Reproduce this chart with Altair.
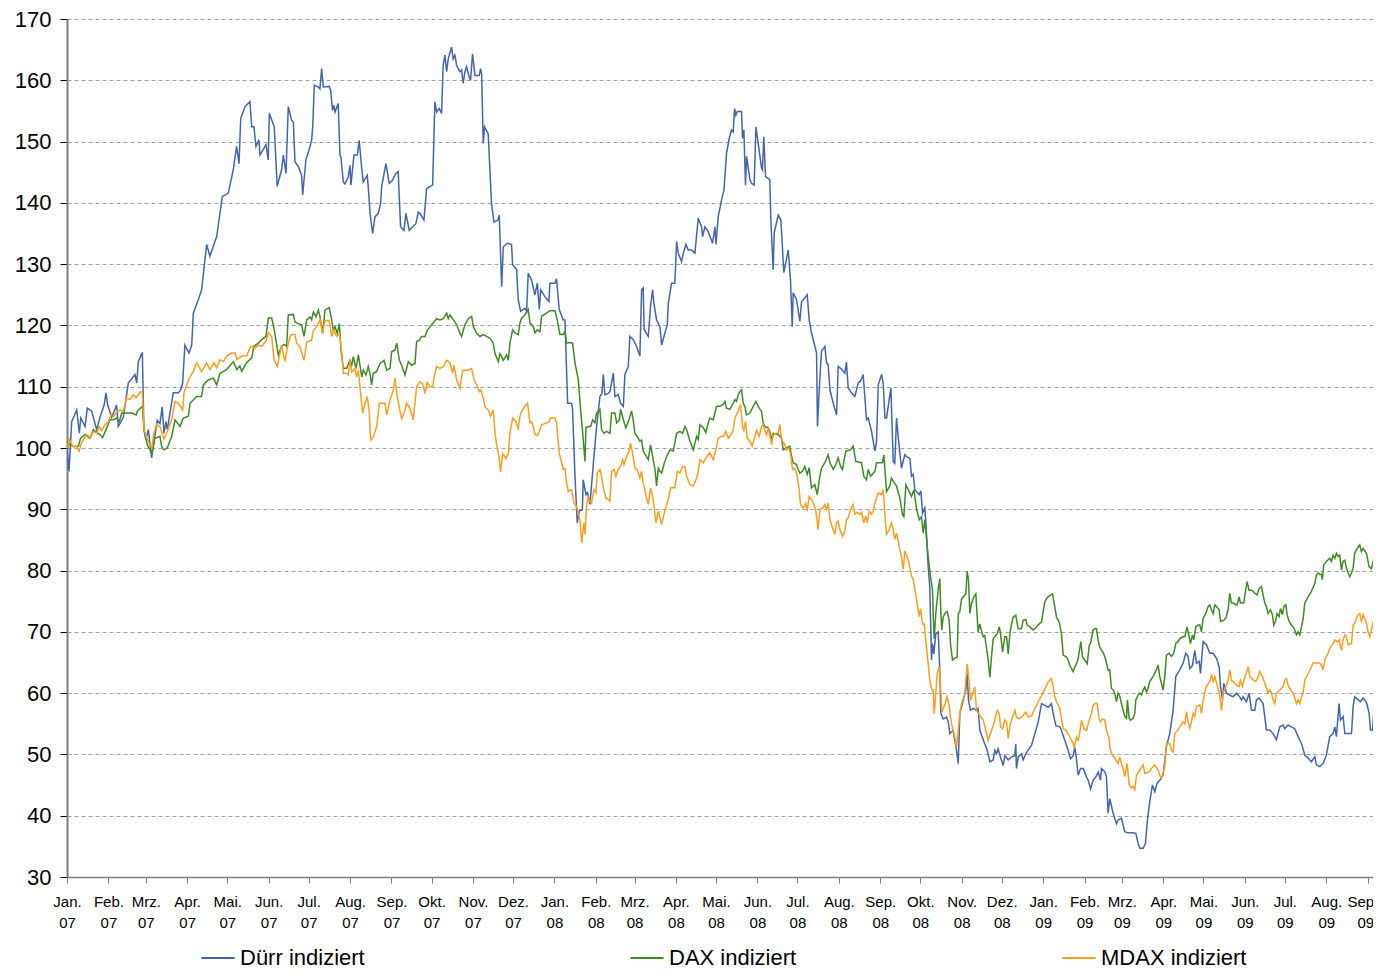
import altair as alt
import pandas as pd

# Each entry: (days since 2007-01-01, index value)
durr = [
(0,100),(1.5,96.2),(3.5,104.3),(7.3,106.2),(9.2,102.4),(10.3,104.9),(13.5,103.5),(15.2,106.5),(18.5,106),(22.2,103),
(24.7,105),(27.9,107.1),(29.2,109),(30.5,107),(33.5,105),(37.2,107),(38.4,103.5),(42.2,105),(45.9,110.6),(50.9,112),
(52.2,110.6),(53.4,114.1),(56.4,115.6),(57.6,103),(59.1,101.4),(60.9,103),(63.4,98.4),(65.1,101),(67.6,104.5),(69.6,104),
(71.3,106.7),(72.6,102.4),(74.1,104.3),(75.1,103),(77.1,105.7),(79.6,109),(83.3,109),(85.1,109.5),(86.6,110.6),(88.3,116.8),
(91.3,115.5),(93.4,116.8),(94.6,122),(98.3,124.2),(100.8,125.8),(104.6,133.2),(107,131.3),(112.1,134.5),(116.3,141),(120.8,141.6),
(124.5,145.4),(127,149.2),(128.8,146.4),(130.1,153.8),(133.3,155.7),(137,156.5),(138.3,152.4),(140,152.4),(141.5,149.2),(143.7,150.3),
(144.5,147.8),(149,149.5),(150.7,147),(151.5,154.6),(155.2,152.4),(157.4,142.7),(160.7,145.4),(162,147.8),(164,144.8),(165.7,155.7),
(168.2,153.5),(169.5,153.2),(170.7,146.7),(173.2,145.9),(175.7,144.5),(176.5,141.3),(178.9,147),(181.2,148.6),(183.2,150.2),(184,152.4),
(185.2,159.2),(188.2,158.9),(189.4,158.6),(190.7,161.9),(191.9,158.9),(196.4,159),(197.4,158.4),(198.9,155.1),(199.9,155.9),(200.7,154.8),
(203.1,156.2),(204.4,147.8),(205.1,147.5),(206.9,143.4),(208.1,143.1),(210.6,144.2),(211.9,146.1),(212.6,142.9),(214.9,147.8),(217.4,147.8),
(218.8,150.2),(220.6,145.9),(221.8,143.4),(224.8,144.5),(225.6,142.6),(226.9,138.3),(228.9,135),(230.6,137.7),(233.1,138.3),(234.9,139.9),
(235.6,142.6),(238.8,146.4),(241.3,143.2),(243.8,143.7),(246.3,144.8),(248,145.1),(249.8,136.1),(252.3,135.5),(253.8,138.3),(256.3,135.5),
(258.8,136.1),(261.3,136.6),(263,138.5),(264.3,138.3),(267.3,137.2),(269.3,142.3),(271.3,142.6),(273.8,142.9),(275.5,156.5),(276.8,154.8),
(278.7,155.4),(280.5,154.6),(281.7,162.4),(283,164.1),(284.3,161.4),(285.5,163.5),(288,165.4),(289.2,163.5),(290.5,164.1),(291.8,162.4),
(294.2,161.4),(295.5,161.7),(296.7,159.5),(298,161.4),(299.2,162.2),(301.2,160.5),(302.2,160),(303.7,164.3),(305.5,160.8),(308.7,160.8),
(309.7,161.9),(310.5,161),(311.7,149.7),(312.7,152.4),(315.4,151.3),(317.9,139.9),(319.7,136.9),(322.9,137.2),(323.7,138),(325.5,126.3),
(326.7,132.8),(329.7,133.4),(332.9,133.2),(333.7,129.9),(336.7,129.1),(337.9,124.2),(339.7,122.3),(342.9,122.8),(344.2,122.3),(345.4,128.5),
(347.9,127.4),(350.4,125),(352.2,126.9),(353.7,122.6),(354.7,125.8),(357.9,124.7),(360.9,123.9),(361.6,126.9),(365.4,126.9),(366.6,127.6),
(368.6,122.6),(371.6,120.9),(372.9,120.9),(374.9,107.3),(377.9,107.3),(378.6,106.3),(380.4,95.4),(382.1,87.8),(383.6,89.7),(385.9,89.9),
(386.6,94.8),(388.6,92.4),(389.8,92.7),(391.6,90.8),(394.6,98.6),(396.6,103.5),(399.1,108.4),(400.6,108.9),(401.6,112),(402.8,108.7),
(405.3,108.9),(406.6,109.2),(409.1,112.2),(410.3,108.4),(412.8,108.7),(414.6,107.3),(416.6,106.8),(417.8,112),(420.3,113.3),(421.5,118.2),
(424,117.7),(426.5,116.6),(429,115),(430.3,125.8),(431.5,126.1),(432.2,119.3),(435.3,118.2),(437,123.1),(438.5,125.8),(439.5,123.6),
(441.5,120.9),(444,119.8),(445.3,116.8),(447.8,118.8),(449.5,120.1),(450.3,123.6),(452.7,126.9),(455.2,126.9),(456.5,133.7),(457.7,131.8),
(460.2,130.4),(461.5,131.8),(463.5,133.2),(465.2,132.3),(467.7,132.3),(470.2,131.8),(472.7,137.5),(475.2,136.1),(476,134.5),(477.7,136.1),
(480.2,135.3),(483.4,133.4),(485.2,136.1),(486,133.2),(487.7,137.8),(490.2,140.5),(492,142.1),(493.9,148.1),(495.9,150.5),(497.6,151.9),
(498.9,151.6),(499.9,155.4),(500.9,154.3),(501.9,154.9),(505.1,154.9),(505.9,150.5),(506.9,151.9),(508.1,142.9),(508.9,147.6),(511.4,143.8),
(512.6,143.2),(514.6,142.9),(515.9,152.4),(517.6,149.7),(520.1,145.7),(520.8,145.4),(521.8,150.8),(523.1,144.3),(525.1,144),(526.3,143.8),
(527.1,137.2),(528.8,129.1),(529.6,135.1),(532.6,138),(534.6,137.2),(536.8,128.6),(540.1,132.3),(541.8,127.4),(543.1,119.8),(543.8,125.3),
(546.3,124.2),(548.8,120.7),(550.1,123.9),(552.5,124.5),(554.3,125),(555.8,120.9),(557.5,118.8),(561.3,115.5),(562,103.5),(563.3,109.5),
(565,115.8),(567.5,116.6),(568.8,113.9),(570,113.6),(571.3,109.5),(573.8,107.3),(576.3,105.4),(577.5,113.3),(579.3,113),(582.5,112.2),
(583.7,114),(585,109.8),(587.5,109),(590,108.4),(592.5,110.6),(594.2,110.9),(596.2,112),(597.5,108.2),(598.7,104.6),(600,104.9),
(602.5,102.7),(605,99.5),(606.2,100.9),(607.5,110.3),(610,112),(611.2,110.6),(612.5,104.9),(613.7,104.9),(617,109.8),(618.7,97.8),
(619.9,97.5),(621.2,104.9),(622.4,101.9),(624.9,96.7),(627.4,98.9),(628.7,98.6),(631.2,98.3),(632.4,95.4),(633.7,95.7),(634.9,93.2),
(638.2,92.4),(639.4,93),(640.7,89.4),(642.4,90.2),(643.2,87.8),(644.9,80.6),(646.1,77.3),(647.4,65.4),(648.1,68.1),(649.1,66.4),
(650.6,69.7),(652.4,70),(653.6,63.7),(654.4,56.7),(656.1,55.8),(658.6,56.1),(659.9,55.3),(661.1,53.4),(663.6,53.9),(664.9,52.3),
(666.1,50.7),(667.4,48.5),(668.6,56.7),(671.1,58.8),(673.1,60.5),(674.1,63.2),(675.1,58.8),(676.6,57.2),(678.6,57.5),(681.1,57.2),
(682.3,57.5),(683.6,53.9),(687.3,51.7),(689.1,50.7),(691.1,48.8),(693.6,49.1),(694.8,50.7),(696.1,50.1),(697.3,50.9),(699.1,49.5),
(701.1,48.2),(702.3,49.8),(704.8,49.1),(707.3,49.6),(709.8,49.8),(710.5,51.7),(711,47.7),(712.3,49.6),(714.8,50.1),(716,49.1),
(718,50.1),(719.8,50.7),(722.3,51.5),(724.8,53.4),(727.3,55.3),(729.8,58.3),(732.3,58),(734.7,57.7),(737.2,58.3),(738.5,56.7),
(740.5,54.7),(743.5,54.5),(744.7,53.9),(747.2,52.3),(749.7,50.7),(751.5,49.3),(753.5,49.8),(754.7,51.2),(756,49.1),(757.2,46.6),
(759,47.7),(761,47.7),(763.5,46.3),(764.7,45.8),(766.5,44.4),(768.4,45.8),(770.4,46.3),(772.2,47.1),(773.9,45.8),(774.6,47.7),
(777.1,47.2),(778.4,46.4),(779.6,40.4),(780.9,42.8),(783.4,40.4),(785.9,38.7),(787.1,39.3),(789.6,39.6),(792.1,37.4),(794.6,37.2),
(798.4,37.2),(800.4,37.1),(802.1,35.5),(803.4,34.7),(805.9,34.7),(807.6,35.5),(809.1,39.3),(810.8,42.3),(812.8,45),(814.6,43.9),
(816.3,45.3),(818.3,45.8),(820.8,46.6),(823.3,51.3),(825.8,53.4),(828.3,57.2),(830.3,62.7),(833.3,63.8),(835.8,64.9),(837.8,66.5),
(839.5,66),(840.8,64),(842.8,64.5),(844.5,67),(845.8,64.9),(847.8,65.2),(848.8,63.2),(850.8,68.4),(853.3,67.9),(855.8,66.5),
(858.3,66.5),(860.8,65.7),(862.8,64.3),(863.8,61.1),(865.3,58.9),(866.3,61.6),(868.3,60),(870.7,59.7),(873.2,59.4),(875.7,60),
(878.2,59.4),(879.5,58.9),(880.7,59.4),(883.2,58.6),(885.2,60),(887,57.2),(889.5,57.2),(890.7,58.9),(892.7,59.2),(895.7,58.3),
(898.2,54),(900.7,54),(903.2,53.4),(905.7,52.4),(908.2,54.5),(910.7,54.8),(911.9,54.2),(914.4,54.8),(916.9,54.5),(919.4,54.2),
(921.9,52.9),(924.4,51.8),(926.9,49.9),(929.4,49.4),(931.9,48.8),(934.4,49.6),(935.6,48.3),(938.1,48),(940.6,48.5),(943.1,49.9),
(945.6,52.9),(948.1,53.4),(949.4,54.5),(950.6,52.9),(952.6,58.3),(953.6,55.6),(955.6,56.2),(956.9,53.4),(959.4,53.4),(961.9,53.4),
(963.1,57.8),(964.3,59.4),(966.8,58.9),(968.6,58.6),(970.6,59.2),(973.1,58.5),(975.1,56.7),(976.1,54),(977.6,54),(978.8,57.5),
]

dax = [
(0.3,100),(1,100.8),(4.7,100.2),(8.5,100.3),(10.2,101.6),(13.5,102.2),(17.2,101.6),(19.7,103),(22.2,102.5),(24.7,102.2),
(26.7,101.7),(29.2,103),(32.2,104.6),(34.7,104.6),(37.2,104.9),(39.2,104.3),(41,105.7),(44.7,105.7),(48.4,105.7),(51.7,105.4),
(52.7,106),(56.4,106.8),(57.7,103),(60.2,100.5),(63.4,99.2),(65.9,101.6),(69.6,101.9),(70.9,100.2),(72.6,99.7),(75.1,100),
(78.4,101.9),(80.9,104.6),(82.6,104.1),(84.6,103.5),(87.1,104.9),(90.9,105.2),(92.1,107.3),(97.1,108.4),(100.8,108.4),(102.1,110.3),
(105.8,111.1),(109.6,111.4),(112.1,110.3),(114.6,112.2),(119.6,112.8),(124.6,114.1),(127.1,112.8),(129.5,113.4),(130.8,112.5),(134.5,113.9),
(138.3,114.7),(140,116.6),(143.3,117.1),(145.8,117.7),(149,118.2),(150.8,121.2),(153.3,121.2),(155.2,119.3),(158.2,115.2),(160.7,116.6),
(162.5,116.9),(164.5,116.6),(165.7,121.7),(169.5,121.8),(170.7,120.6),(173.2,120.3),(175.7,120.1),(177.5,118.2),(179.5,120.9),(182,121.4),
(183.2,120.9),(184.5,122.2),(186.5,121.4),(188.2,122.5),(189.5,121.4),(191.4,118.7),(193.2,122.5),(196.4,122.9),(198.2,120.9),(199.4,119.2),
(200.7,119.8),(202.4,118.7),(203.9,120.3),(205.2,116),(206.9,113),(209.4,113),(211.9,114.3),(213.2,113.5),(214.4,114.9),(216.4,113),
(218.2,115.2),(219.4,113.5),(220.7,111.6),(221.9,112.7),(223.9,111.9),(225.6,113.3),(226.9,112.2),(228.1,110.3),(229.4,112.2),(231.9,112.5),
(234.4,113.8),(237.4,114.3),(239.4,112.7),(241.9,113),(243.1,115.7),(245.6,116),(246.9,117.1),(248.9,114.3),(250.6,113.5),(253.1,111.9),
(255.6,114.1),(258.1,113.5),(260.6,113.8),(261.8,117.3),(263.8,117.6),(265.6,118.2),(268.1,118.2),(269.8,119.2),(273.1,120.1),(274.8,120.6),
(276.8,121.1),(279.3,120.9),(281.8,121.1),(284.3,122),(285.5,121.1),(286.8,121.7),(289.3,120.9),(291.8,120.1),(294.3,118.7),(295.5,118.2),
(298,120.1),(300.5,121.1),(303,121.5),(304.3,119.8),(306.8,118.7),(309.3,118.2),(311.8,118.5),(314.3,118.2),(316.7,117.9),(319.2,117.1),
(320.5,115.4),(323,114.1),(324.2,115.4),(325.5,114.9),(326.7,114.3),(329.2,115.2),(330.5,114.3),(331.7,117.1),(333.7,119.3),(335.4,118.8),
(337.9,118.5),(339.2,120.4),(340.4,121.2),(342.9,121.7),(345.4,122.6),(346.7,120.4),(349.2,119.8),(350.4,118.8),(352.2,119.3),(354.2,119),
(355.4,121.5),(359.1,122),(361.6,122.4),(365.4,122.4),(367.1,120.9),(369.1,118.5),(371.6,118.5),(372.9,119),(374.1,117.1),(376.6,117.2),
(378.6,117.1),(380.4,113.9),(382.9,111.1),(384.6,106.3),(386.1,102.7),(387.9,97.8),(388.6,103.3),(390.3,103.5),(392.1,103.5),(393.6,104.6),
(395.3,104.1),(396.6,105.7),(399.1,106.3),(400.3,103),(402.1,102.4),(404.1,102.7),(406.6,102.4),(407.8,105.7),(410.3,105.7),(411.6,104.1),
(413.6,104.6),(414.6,106.3),(416.6,104.6),(418.5,103.3),(420.3,104.3),(422.8,106),(424,104.6),(425.3,102.4),(427.8,101.6),(429,101.1),
(430.3,101.3),(431.5,99.5),(434,98.6),(435.3,98.1),(437,100.5),(439,98.1),(440.3,96.5),(441.5,93.8),(442.8,96.7),(444,96.2),
(445.3,95.9),(447,97.3),(449,98.6),(451.5,99.7),(454,99.5),(456.5,102.4),(459,102.7),(461,102.4),(462.7,103.5),(464,103),
(466.5,101.1),(469,99.7),(471.5,101.9),(472.7,101.4),(474,103.8),(476.5,103.3),(478.4,102.5),(480.2,104.1),(481.4,104.9),(483.9,104.6),
(486.4,106.8),(488.9,106.8),(491.4,107.1),(492.7,107.6),(493.9,106.5),(496.4,106.3),(497.6,106.8),(498.9,107.3),(500.1,107.9),(501.4,107.6),
(502.6,108.7),(503.9,109.2),(505.1,109.5),(506.4,107.3),(507.6,106.8),(508.9,105.4),(511.4,105.7),(513.9,106.8),(515.9,107.6),(517.6,106.8),
(518.9,106.3),(520.1,106),(521.3,104.1),(522.6,103.5),(525.1,103.3),(526.3,102.7),(527.6,101.4),(528.8,102.4),(532.6,102.2),(535.1,101.6),
(536.3,99.7),(538.8,100),(541.3,100.3),(542.6,98.6),(543.8,97.6),(546.3,97.3),(547.6,96.5),(548.8,95.9),(550.8,96.2),(552.5,97),
(554.3,95.7),(555.8,96.8),(557.5,93.5),(560,94),(561.8,92.4),(563.8,95.4),(565,96.7),(567.5,97.6),(570,98.9),(571.3,97.6),
(573.8,96.5),(575.8,97.3),(577.5,98.4),(579.3,97),(580.7,96.5),(583.2,99.5),(586.7,99.7),(588.7,100.3),(590.7,97.8),(595,97.6),
(596.7,95.4),(598.7,94.8),(600,96.5),(601.7,95.4),(605,96.2),(606.2,97.6),(610.7,97.6),(611.7,98.9),(613.7,92.9),(616.2,93.8),
(617.4,95.1),(618.7,94.6),(621.2,93.8),(623.7,91.8),(625.7,89.1),(626.7,88.8),(628.2,94),(630.7,92.9),(632.4,92.1),(634.2,93.2),
(636.2,90),(638.2,88.3),(639.9,88.8),(641.1,86.1),(642.4,88.3),(644.9,82.3),(646.6,79.1),(648.1,76.9),(648.8,71.9),(649.4,68.9),
(650.6,73),(651.6,75.2),(652.6,77.3),(653.6,78.7),(654.4,73),(655.1,70.3),(656.1,72.4),(657.4,73),(659.1,73.3),(660.6,71.9),
(661.6,68.1),(663.1,65.4),(664.9,65.7),(666.6,65.9),(667.4,73),(668.6,73.3),(669.9,75.4),(671.1,75.7),(673.1,76.2),(674.1,79.9),
(675.1,78.4),(676.1,73),(677.3,74.6),(679.1,75.7),(680.6,76.2),(681.6,72.4),(682.3,70),(683.6,71.3),(684.8,70.2),(686.1,69.2),
(687.3,69.4),(688.1,68.1),(689.8,65.4),(691.1,62.6),(692.3,65.9),(693.6,68.9),(694.8,69.2),(696.6,69.7),(698.1,70.8),(699.1,69.7),
(700.6,66.7),(702.3,69.2),(703.6,69.2),(704.8,66.4),(706.1,69.7),(707.3,71.3),(708.5,72.4),(710.5,72.7),(712.3,70.5),(714.8,70.5),
(716,71.9),(718,72),(719,71.1),(721,70.8),(723.5,70.3),(726,70.8),(728,71.3),(729.8,71.6),(731,73.3),(732.3,74.9),
(733.5,75.4),(734.7,75.7),(736.5,76),(738,76.2),(739.7,74.1),(741,72.4),(743,71.6),(744.7,69.7),(746,66.2),(748.5,65.9),
(749.7,65.4),(751,64.5),(753.5,63.5),(754.7,64.3),(756,64.8),(757.2,65.6),(759.2,68.4),(760.5,65.9),(762.2,65.4),(764,64.8),
(765.5,67.8),(766.5,68.1),(768.4,70.3),(769.7,70.5),(770.9,70.5),(772.2,68.6),(773.4,67.5),(776.4,66.4),(777.9,65.4),(779.7,63.7),
(780.9,63.8),(782.1,60.8),(783.4,60.5),(784.6,60),(785.9,58.6),(787.1,60),(788.4,59.5),(789.6,58.3),(790.9,57.2),(792.1,56.2),
(793.4,55.9),(794.1,58.9),(795.4,55.9),(796.4,55.6),(798.4,55.9),(799.6,56.7),(800.4,58.9),(802.1,59.7),(803.4,60),(804.6,59.7),
(805.9,60.5),(807.1,61),(808.4,60.2),(809.6,60.8),(810.8,61.9),(813.3,62.7),(815.8,63.8),(817.1,64.6),(818.3,62.7),(819.6,61.6),
(820.8,60.5),(822.1,62.7),(823.3,66.2),(825.3,66.5),(827.1,66),(828.8,66.5),(830.3,68.1),(832.1,68.4),(833.3,68.9),(835.3,69.2),
(837.1,69.2),(838.8,70.8),(840.3,69.2),(841.3,68.1),(842.8,69.5),(843.8,68.7),(845.3,70.8),(847,71.1),(848.3,71.1),(849.5,70),
(850.8,72.2),(852.8,73),(854.5,74.1),(855.8,74.4),(857,73.6),(858.3,73),(859.5,74.4),(860.8,74.1),(862.8,73.6),(863.8,71.7),
(866.3,71.9),(867.8,72.2),(869.5,73.6),(870.7,76.3),(872,74.7),(873.7,74.7),(875.2,74.4),(876.2,74.4),(877.7,75.7),(878.7,74.7),
(881.2,74.7),(882.5,76.6),(883.7,78.2),(885.2,76.8),(887,76.8),(888.2,76.6),(889.5,76.3),(891.2,76),(892.7,77.1),(894.5,77.4),
(895.7,76),(897,74.7),(898.2,74.1),(899.4,73),(901.2,73.6),(902.7,72.8),(903.7,71.1),(905.2,71.9),(906.2,73),(907.7,72.5),
(908.7,73.8),(910.2,72.8),(911.2,74.1),(912.7,74.4),(913.7,72.8),(915.2,71.7),(916.9,71.1),(918.2,70.8),(919.4,70.3),(920.7,69.5),
(921.9,70),(923.2,69.5),(924.4,70.8),(925.7,72.2),(926.9,74.7),(929.4,75.7),(931.9,76.6),(934.4,77.9),(935.6,79.3),(936.9,79.6),
(939.4,79.3),(940.1,78.5),(941.1,80.9),(943.1,81.5),(945.6,82),(946.9,81.5),(948.1,82.5),(949.4,82),(950.6,82.8),(951.9,82.3),
(953.1,82.5),(954.4,80.1),(955.6,81.5),(956.9,81.7),(958.1,80.4),(959.4,79.6),(960.6,79),(961.9,79.6),(963.1,80.4),(964.3,82.8),
(965.6,83.4),(968.1,84.2),(969.3,83.1),(970.6,83.6),(973.1,82.8),(975.1,80.6),(976.8,80.3),(978.1,81.5),(978.8,81.7),
]

mdax = [
(0.3,100),(1.7,101.4),(4.2,100.3),(6.7,100.3),(9.2,99.5),(10.2,100.5),(12.2,101.4),(14.7,102.2),(17.2,101.7),(19.7,102.7),
(22.2,102.4),(24.2,103.5),(26,102.8),(28.5,103.8),(31,104.3),(32.7,105.4),(34.7,105.1),(37.7,106),(39.7,106.2),(42.2,106),
(44.7,108.2),(47.2,107.9),(49.7,108.7),(51.7,108.2),(54.7,109.1),(56.4,109.2),(57.7,103),(60.2,101.4),(63.4,100),(65.1,102.4),
(67.1,103.8),(69.6,103.5),(72.6,101.4),(74.6,102.4),(78.4,104.6),(80.9,107.6),(83.4,107.3),(85.1,106.7),(86.6,106.2),(87.6,109),
(90.9,111.1),(94.6,112.5),(97.1,113.9),(100.8,112.5),(104.6,113.9),(107.1,112.8),(110.1,113.9),(112.1,113.1),(114.6,114.4),(117.1,114.1),
(119.6,115),(123.3,115.5),(125.8,115.5),(127.1,114.4),(130.8,115),(134.5,115),(137.5,116.6),(140.8,116.3),(143.3,116.8),(145.8,116.6),
(149,117.4),(150.8,118.8),(153.3,118.2),(155,114.4),(157.5,113.3),(159.5,115.5),(160.7,116.8),(163.2,114.1),(165.2,116.6),(167,118.2),
(168.2,118.5),(170.7,118.5),(172,117.1),(174.5,116.5),(177.5,114.3),(179.5,117.3),(183.2,117.6),(184.5,119.2),(187,119.8),(189.5,120.9),
(191.4,118.7),(193.2,120.8),(196.4,120.8),(198.2,118.2),(199.9,119.2),(201.9,118.2),(203.9,118.7),(205.7,115.7),(206.9,112.2),(209.4,112.2),
(210.7,111.9),(211.9,114.3),(213.2,112.4),(215.7,113),(216.9,111.6),(218.2,112.7),(219.4,110),(221.4,105.7),(223.1,107.3),(224.9,108.4),
(226.4,105.7),(227.4,101.3),(229.4,101.8),(231.9,103.5),(233.9,107.3),(235.6,107.3),(238.1,107.3),(239.4,105.4),(241.9,107.8),(244.4,109.5),
(245.6,111.4),(246.9,108.9),(248.9,106.5),(250.6,104.8),(252.4,105.7),(254.3,107.3),(256.3,106.7),(258.1,105.7),(259.3,104.6),(261.8,110),
(264.3,110.8),(266.3,110.5),(268.1,108.9),(269.8,110.7),(271.8,110),(273.8,110),(274.8,111.4),(276.8,113.3),(279.3,113),(281.8,113.3),
(284.3,114.3),(286.8,113.9),(288.8,112.2),(289.8,113.5),(291.8,111.1),(294.3,109.7),(296.3,112.7),(298,112.7),(300.5,112.7),(303,113),
(304.8,111.1),(306.8,110.3),(308.8,109.2),(309.8,109.5),(311.8,108.1),(313,106.7),(315.5,106.2),(317.2,105.2),(319.2,106.2),(320.5,102.4),
(321.7,100.5),(323.5,98.6),(324.7,96.1),(326.2,99.1),(328.7,98.3),(330.5,99.1),(331.7,102.4),(333.7,104.9),(336.2,104.3),(337.9,103),
(339.2,105.2),(340.4,106),(342.9,106.8),(344.9,107.3),(346.7,104.1),(347.9,104.3),(349.2,103.5),(350.4,102.2),(352.2,102),(353.7,102.7),
(355.4,103.8),(359.1,104.1),(361.1,104.3),(362.1,104.9),(365.4,104.9),(366.6,104.1),(368.6,99.2),(370.4,97.6),(371.6,96.5),(372.9,96.7),
(374.1,94.3),(375.4,92.9),(377.9,93.2),(379.6,91),(381.6,90.5),(384.1,88.3),(385.4,84.5),(387.1,87.8),(387.9,85.9),(389.1,90.5),
(390.3,92.1),(391.6,91.3),(392.8,91),(394.6,93.2),(396.1,92.7),(397.1,95.9),(399.1,96.5),(400.3,95.4),(401.6,93.5),(403.6,91.8),
(405.3,91.6),(406.6,91.3),(407.8,96.2),(409.6,96.5),(411.1,95.4),(412.8,96.5),(414.6,97),(416.1,98.1),(417.1,97.3),(419,98.6),
(421,99.5),(422,100.8),(423.5,99.2),(425.3,96.7),(427,96.5),(429,95.1),(430.3,96.2),(431.5,94.3),(434,91.8),(435.3,90.8),
(437,93.5),(439,91.6),(441,87.8),(442.8,89.7),(445.3,87.5),(447.8,89.9),(450.3,91.6),(452,93.5),(455.2,93.5),(457,96.2),
(459,95.9),(461,97),(462.7,97),(464,95.4),(466.5,94),(469,93.8),(471.5,95.1),(472.7,96.2),(474,98.1),(476.5,97.6),
(479,98.6),(481.4,99.2),(483.9,98.1),(485.9,99.7),(487.7,101.6),(490.2,101.9),(491.9,101.9),(493.4,102.7),(495.2,101.6),(496.4,101.9),
(497.6,102.4),(498.9,102.9),(500.1,104.9),(502.6,106),(504.4,107.1),(505.9,103.5),(506.9,102.9),(508.1,104.3),(509.4,101.6),(511.4,101.1),
(513.1,100.3),(515.1,101.9),(516.4,102.9),(518.4,101.9),(520.1,103.5),(521.3,103.8),(522.6,102.9),(523.8,102.1),(525.1,103.2),(526.3,102.1),
(527.6,100.5),(528.8,102.1),(530.8,102.4),(532.6,102.4),(533.8,103.8),(535.1,101.4),(537.6,100.5),(538.8,99.7),(540.8,100),(542.1,98.6),
(543.3,96.5),(545.1,96.7),(546.8,95.4),(548.3,93.2),(549.3,90.8),(551.3,90.2),(553.3,91),(554.3,89.7),(555.8,92.1),(557.5,91.6),
(559.3,90.8),(560.8,89.7),(562.5,86.7),(563.8,90),(565.8,90.2),(567.5,90.8),(568.8,90),(570,91),(571.3,88.3),(573.3,86.9),
(575,85.9),(576.3,87.8),(577.5,88.1),(578.8,86.7),(580.7,85.6),(582.5,86.4),(583.7,88.3),(585,88.6),(586.7,90),(588.7,90.8),
(590,89.2),(591.7,89.5),(593.7,89.2),(595,89.5),(596.7,87.8),(598.2,88.9),(599.2,87.8),(600.7,89.7),(602.5,89.2),(603.7,89.7),
(605.7,91.6),(607.5,92.7),(609.9,92.4),(611.2,93.2),(612.5,89.2),(613.7,85.9),(615.7,86.7),(617.4,87.8),(618.7,86.7),(619.9,85.1),
(621.2,86.1),(622.4,84.8),(623.7,83.4),(624.9,82.3),(626.2,80.2),(627.4,83.2),(629.9,81.8),(632.4,79.1),(633.7,78.6),(634.9,76.9),
(636.2,75.2),(638.2,72.5),(639.2,73.8),(640.7,71.3),(641.9,71.3),(643.6,67.5),(644.9,64.8),(646.1,62.1),(647.4,60.7),(648.6,60.4),
(649.4,56.7),(650.6,59.9),(651.6,63.2),(653.1,64.3),(654.1,61.6),(655.1,56.9),(656.1,57.5),(657.4,58.1),(659.1,59.4),(660.6,58),
(661.6,56.1),(663.1,54.2),(664.9,52.8),(666.1,51.2),(667.4,53.9),(668.6,56.7),(669.9,58.3),(672.3,59.9),(674.1,64.8),(675.6,61.8),
(676.6,58.8),(678.1,59.9),(679.8,61),(681.1,57.2),(683.6,56.4),(686.1,55.6),(688.1,53.9),(689.8,52.3),(692.3,53.9),(693.6,54.7),
(696.6,57.2),(698.1,56.7),(699.1,54.5),(700.6,54.2),(702.3,55.6),(703.6,55.3),(704.8,52.6),(706.5,55.1),(708,56.1),(709.8,57.2),
(711,56.1),(713,55.8),(714.8,56.1),(716,56.4),(718,56.9),(719.8,56.1),(722.3,56.3),(724.8,57.5),(727.3,58.6),(729.8,59.6),
(732.3,60.7),(734.7,61.8),(737.2,62.4),(738.5,61),(739.7,59.4),(741,58.6),(743.5,57.5),(744.7,55.8),(746,54.2),(748.5,53.9),
(751,52.8),(753,52),(754.2,51.2),(756,52.8),(757.2,52.3),(758.5,53.7),(759.7,55.6),(761.5,54.2),(763.5,53.9),(765.5,55.6),
(767.2,56.7),(768.4,58),(769.7,58.3),(771.4,58.3),(772.9,55.8),(773.9,55.3),(775.4,55.8),(777.2,55.6),(778.4,53.9),(780.4,52.6),
(780.9,51.3),(782.1,50.2),(784.6,49.4),(787.1,48.5),(788.4,49.6),(789.6,48.5),(790.9,47.7),(792.1,46.4),(793.9,48.5),(795.4,45),
(797.1,44.5),(798.4,44.8),(799.6,44.2),(800.9,46.6),(803.4,47.5),(805.9,48.3),(807.1,46.9),(810.8,47.2),(812.1,47.7),(814.6,48.3),
(817.1,47.5),(818.3,46.6),(819.6,46.1),(822.1,48),(823.3,51.8),(825.8,51.8),(827.1,50.7),(828.3,50.4),(829.6,53.4),(832.1,54),
(833.3,54.5),(835.8,55.3),(837.1,55),(838.3,57),(839.5,55.3),(840.8,54.3),(842,55.3),(843.3,56.7),(844.5,56.2),(845.8,57.8),
(848.3,58.1),(849.5,56.7),(850.8,58.9),(852,60),(853.3,61.1),(855.8,61.9),(857,63),(858.3,61.9),(859.5,62.7),(861.3,61.3),
(862.8,60.2),(863.8,58.6),(864.5,57.2),(865.8,60),(867.8,61.1),(869.5,62.1),(870.7,63.8),(872,62.1),(873.2,61.9),(875.7,61.3),
(877.7,61.1),(878.7,62.1),(880.2,61.1),(882,62.7),(883.2,63.2),(884.5,64.3),(885.7,62.7),(888.7,62.1),(890.2,61.9),(892,62.7),
(893.2,63.5),(895.2,62.7),(897,61.6),(898.2,60.8),(899.4,60),(900.7,60.5),(901.9,60),(903.2,58.9),(904.4,58.3),(905.7,60),
(908.2,60.5),(910.7,61.1),(911.9,62.1),(913.2,62.4),(914.4,61.3),(915.7,60.8),(918.2,60),(919.4,59.2),(920.7,58.3),(921.9,58.9),
(923.2,58.3),(924.4,59.4),(925.7,60),(926.9,62.1),(929.4,63.2),(931.9,64.3),(933.1,64.9),(935.6,64.9),(938.1,64.9),(939.4,64.6),
(940.6,63.8),(941.9,65.4),(943.1,66),(944.4,66.5),(945.6,67.3),(948.1,68.1),(949.4,68.7),(951.1,68.4),(952.6,68.7),(953.6,67.6),
(954.4,67),(955.6,68.7),(956.9,69.5),(958.1,69.2),(959.4,67.9),(961.9,68.1),(963.1,71.1),(964.3,71.4),(965.6,72.2),(966.8,72.8),
(968.1,73),(969.3,71.6),(970.6,72.8),(971.8,72.2),(973.1,71.4),(974.3,70),(975.6,69.2),(976.8,70.3),(978.1,71.6),(978.8,71.9),
]

series_names = ["Dürr indiziert", "DAX indiziert", "MDAX indiziert"]
series_colors = ["#4465ae", "#3e8b26", "#ff9d1e"]
month_labels = ["Jan.", "Feb.", "Mrz.", "Apr.", "Mai.", "Jun.", "Jul.", "Aug.", "Sep.", "Okt.", "Nov.", "Dez."]
y_ticks = list(range(30, 171, 10))

start = pd.Timestamp("2007-01-01")
frames = []
for name, pts in zip(series_names, [durr, dax, mdax]):
    d = pd.DataFrame(pts, columns=["day", "value"])
    d["date"] = start + pd.to_timedelta(d["day"], unit="D")
    d["series"] = name
    frames.append(d[["date", "value", "series"]])
df = pd.concat(frames, ignore_index=True)

tick_dates = [alt.DateTime(year=y, month=m, date=1)
              for y in (2007, 2008, 2009) for m in range(1, 13)
              if not (y == 2009 and m > 9)]

is_last = "year(datum.value) == 2009 && month(datum.value) == 8"
label_expr = ("[(" + is_last + ") ? 'Sep' : " + str(month_labels)
              + "[month(datum.value)], timeFormat(datum.value, '%y')]")

FONT = "Liberation Sans"

chart = alt.Chart(df).mark_line(strokeWidth=1.5, clip=True).encode(
    x=alt.X("date:T",
            scale=alt.Scale(domain=[alt.DateTime(year=2007, month=1, date=1),
                                    alt.DateTime(year=2009, month=9, date=5)], nice=False),
            axis=alt.Axis(values=tick_dates, labelExpr=label_expr, title=None,
                          labelFont=FONT, labelFontSize=15, labelColor="#000000",
                          labelLineHeight=21, labelAngle=0, labelFlush=False,
                          labelOverlap=False, labelBound=False, labelPadding=11,
                          labelAlign={"condition": {"test": is_last, "value": "right"},
                                      "value": "center"},
                          labelOffset={"condition": {"test": is_last, "value": 6},
                                       "value": 0},
                          grid=False, domainColor="#7f7f7f", domainWidth=1.5,
                          tickColor="#7f7f7f", tickSize=6, tickWidth=1)),
    y=alt.Y("value:Q",
            scale=alt.Scale(domain=[30, 170], nice=False, zero=False),
            axis=alt.Axis(values=y_ticks, title=None, labelFont=FONT, labelFontSize=22,
                          labelColor="#000000", labelPadding=9,
                          grid=True, gridDash=[4, 3], gridColor="#a0a0a0", gridWidth=1,
                          domainColor="#7f7f7f", domainWidth=2,
                          tickColor="#000000", tickSize=7, tickWidth=1)),
    color=alt.Color("series:N",
                    scale=alt.Scale(domain=series_names, range=series_colors),
                    sort=series_names,
                    legend=alt.Legend(orient="none", legendX=133, legendY=921,
                                      direction="horizontal", title=None,
                                      symbolType="stroke", symbolSize=1100,
                                      symbolStrokeWidth=2, labelFont=FONT,
                                      labelFontSize=22, labelColor="#000000",
                                      labelLimit=400, columnPadding=261,
                                      labelOffset=4)),
    detail="series:N",
).properties(
    width=1306,
    height=858,
    autosize=alt.AutoSizeParams(type="none"),
    padding={"left": 59, "top": 11, "right": 0, "bottom": 93},
).configure_view(strokeWidth=0)

chart.save("out.html", embed_options={"renderer": "svg", "actions": False})
